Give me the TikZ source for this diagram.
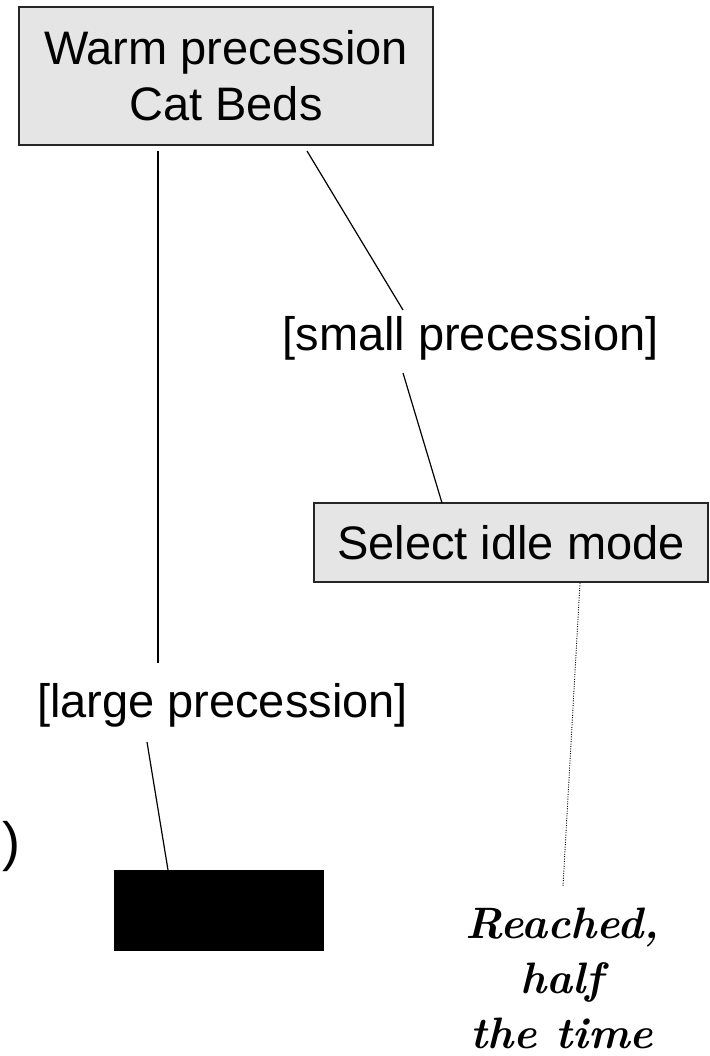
\documentclass[tikz,border=0pt]{standalone}
\usepackage{fontspec}
\newfontfamily\arialfam{Liberation Sans}
\newcommand\boxtext{\arialfam\fontsize{47}{56.4}\selectfont}
\newcommand\handtext{\bfseries\itshape\fontsize{44}{55}\selectfont}
\begin{document}
\begin{tikzpicture}[x=1pt,y=-1pt,
  every node/.style={inner sep=0pt, outer sep=0pt},
  actbox/.style={draw=black!85, line width=1.5pt, fill=black!10, font=\boxtext, align=center},
  guardlabel/.style={font=\boxtext, anchor=base},
  flow/.style={line width=1.2pt, black},
  notelink/.style={line width=0.9pt, black, dash pattern=on 1pt off 1.4pt},
  handnote/.style={font=\handtext, align=center}]
  \fill[white] (0,0) rectangle (709,1056);
  \useasboundingbox (0,0) rectangle (709,1056);

  % activities
  \node[actbox, minimum width=414, minimum height=138] (top) at (226,76) {Warm precession\\Cat Beds};
  \node[actbox, minimum width=394, minimum height=79] (sel) at (511,542.5) {Select idle mode};
  \node[fill=black, minimum width=210, minimum height=81] (blk) at (219,910.5) {};

  % guards
  \node[guardlabel] (lp) at (222.5,717) {[large precession]};
  \node[guardlabel] (sp) at (470.5,350) {[small precession]};

  % stray bracket and note
  \node[font=\arialfam\fontsize{54}{60}\selectfont, anchor=base] (paren) at (11,860) {)};
  \node[handnote, anchor=north] (note) at (562,908) {Reached,\\half\\the time};

  % transitions
  \draw[flow] ([shift={(-68,6)}]top.south) -- ([shift={(-64.5,-54)}]lp.base);
  \draw[flow] ([shift={(-75.5,25)}]lp.base) -- ([shift={(-51,0)}]blk.north);
  \draw[flow] ([shift={(81,6)}]top.south) -- ([shift={(-67.5,-40)}]sp.base);
  \draw[flow] ([shift={(-67.5,23)}]sp.base) -- ([shift={(-69,0)}]sel.north);
  \draw[notelink] ([shift={(69,1)}]sel.south) -- ([shift={(1,-22)}]note.north);
\end{tikzpicture}
\end{document}
